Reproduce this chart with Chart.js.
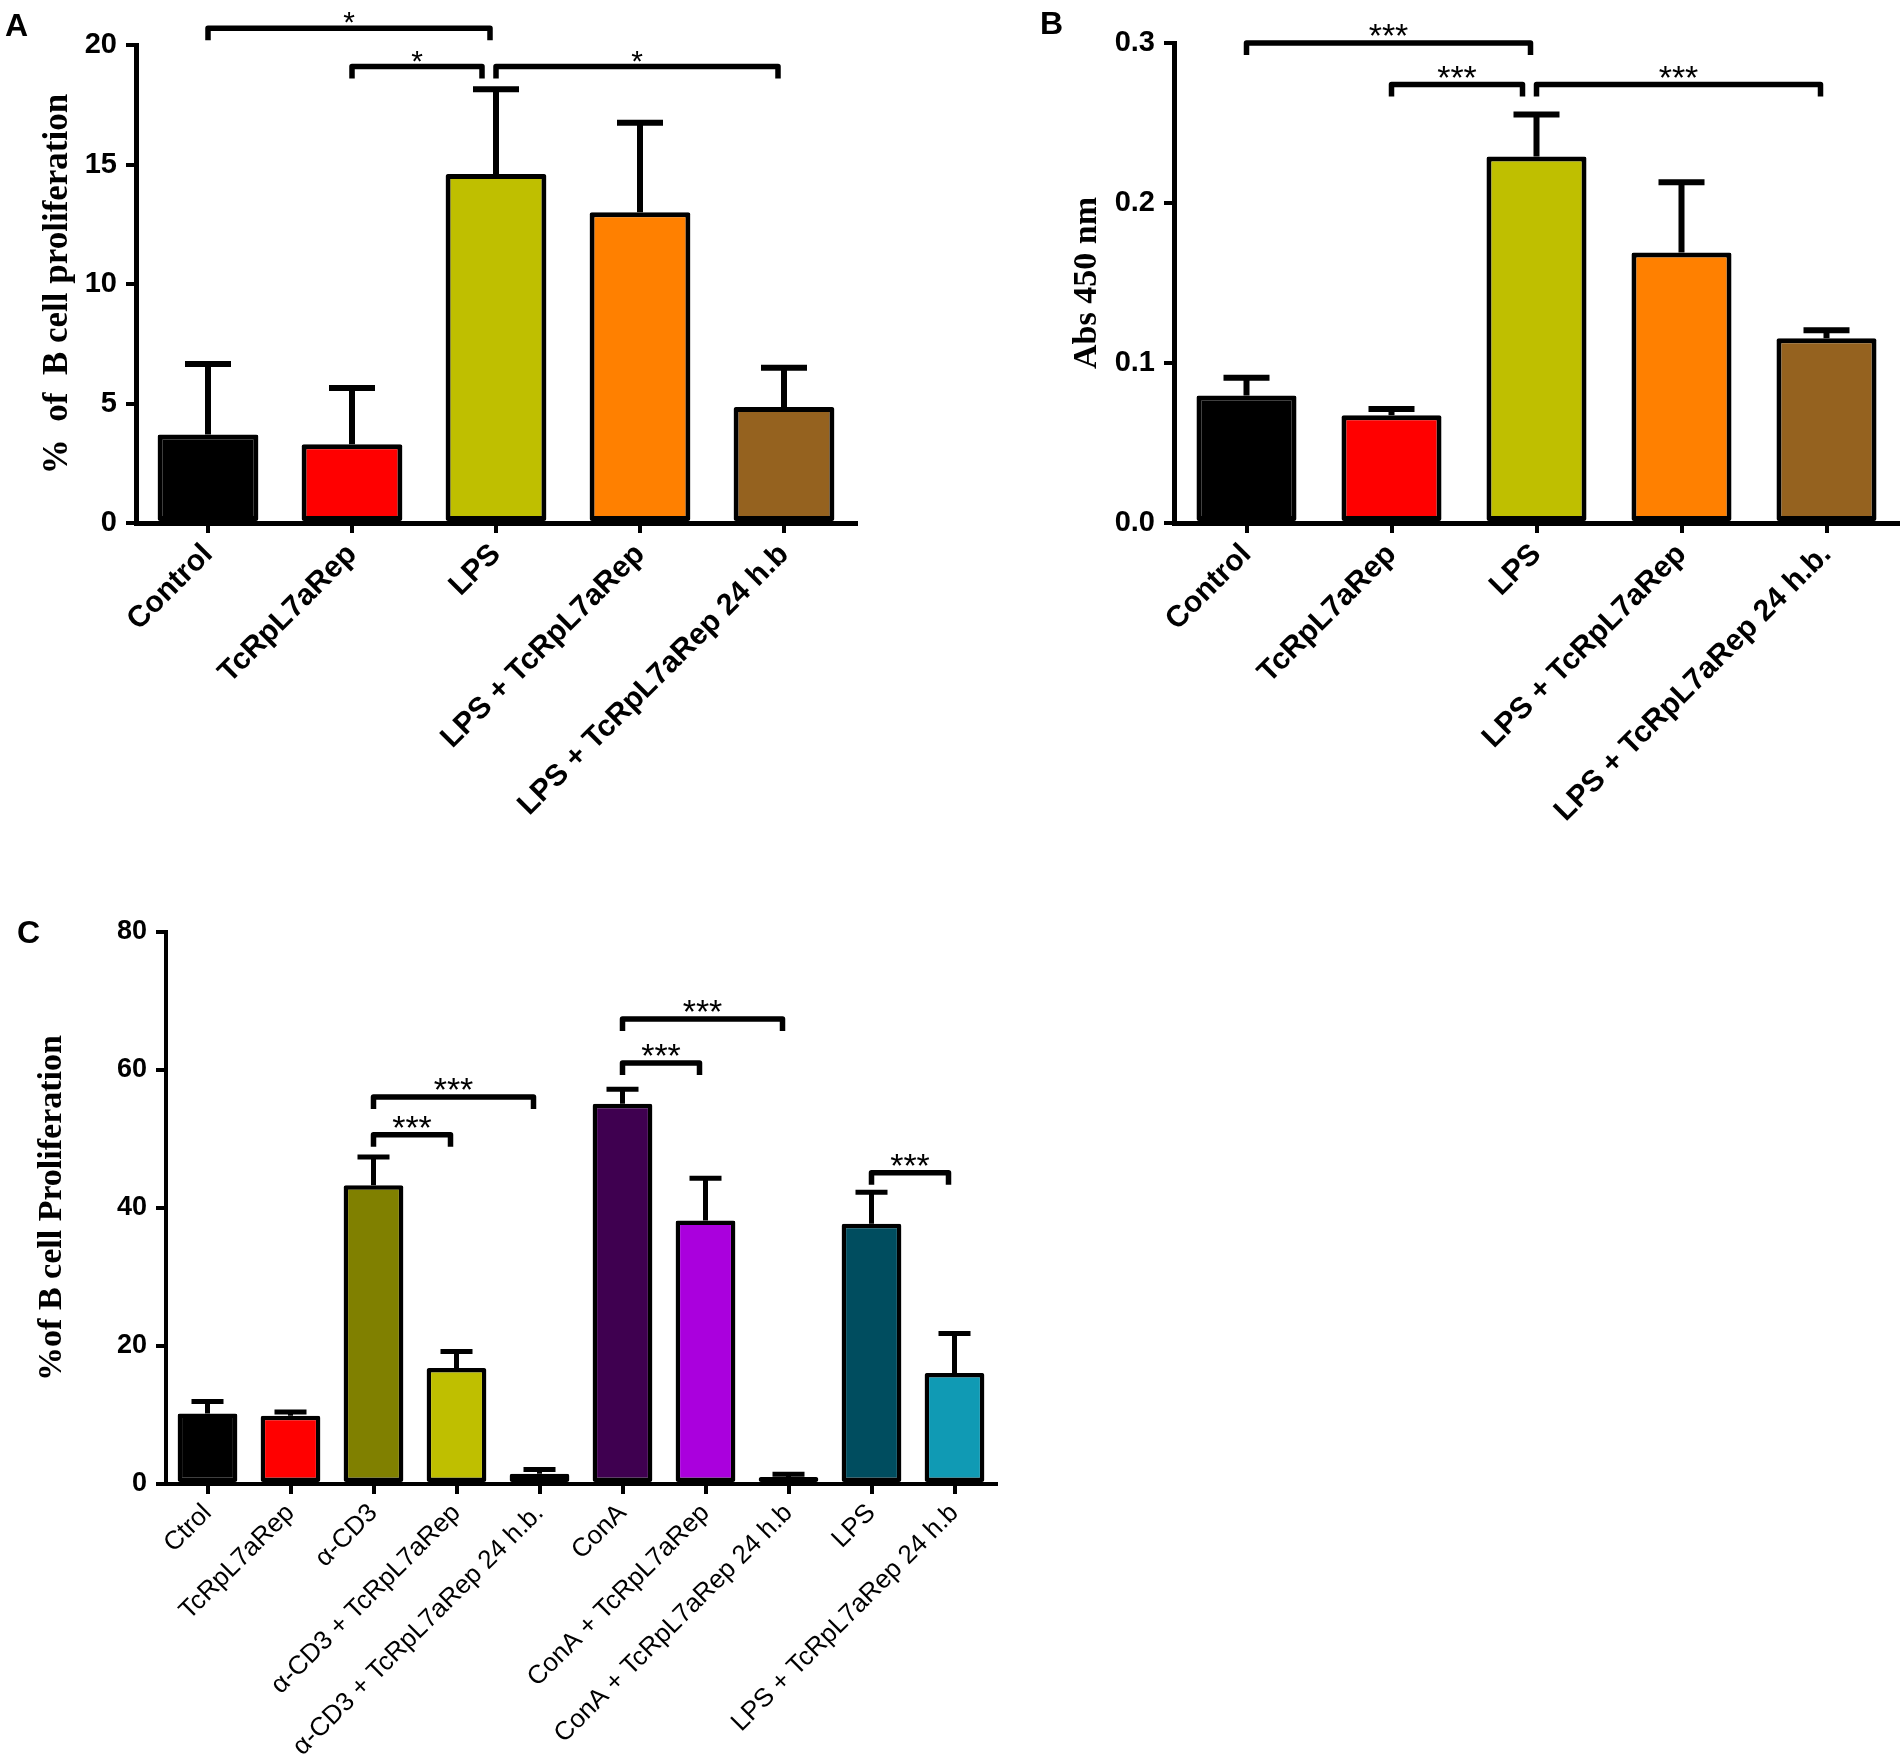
<!DOCTYPE html>
<html>
<head>
<meta charset="utf-8">
<title>B cell proliferation</title>
<script src="https://cdn.jsdelivr.net/npm/chart.js@4.4.1/dist/chart.umd.min.js"></script>
<style>
  html, body { margin: 0; padding: 0; background: #fff; }
  #page { position: relative; width: 1900px; height: 1756px; overflow: hidden; background: #fff; }
  .panel { position: absolute; }
</style>
</head>
<body>
<div id="page">
  <div class="panel" style="left:0;top:0;width:880px;height:880px"><canvas id="chartA"></canvas></div>
  <div class="panel" style="left:1030px;top:0;width:870px;height:880px"><canvas id="chartB"></canvas></div>
  <div class="panel" style="left:0;top:900px;width:1010px;height:856px"><canvas id="chartC"></canvas></div>
</div>
<script>
// panel A - % of B cell proliferation
const labelsA = ['Control', 'TcRpL7aRep', 'LPS', 'LPS + TcRpL7aRep', 'LPS + TcRpL7aRep 24 h.b'];
const meansA = [3.7, 3.3, 14.6, 13.0, 4.85];
const errorsA = [2.95, 2.35, 3.55, 3.75, 1.65];
// [from, to, y value, label]
const bracketsA = [[0, 2, 20.7, '*'], [1, 2, 19.1, '*'], [2, 4, 19.1, '*']];

// panel B - Abs 450 nm
const labelsB = ['Control', 'TcRpL7aRep', 'LPS', 'LPS + TcRpL7aRep', 'LPS + TcRpL7aRep 24 h.b.'];
const meansB = [0.0797, 0.0674, 0.229, 0.169, 0.1154];
const errorsB = [0.0111, 0.0038, 0.0263, 0.044, 0.0051];
const bracketsB = [[0, 2, 0.3, '***'], [1, 2, 0.274, '***'], [2, 4, 0.274, '***']];

// panel C - % of B cell Proliferation
const labelsC = ['Ctrol', 'TcRpL7aRep', 'α-CD3', 'α-CD3 + TcRpL7aRep', 'α-CD3 + TcRpL7aRep 24 h.b.',
    'ConA', 'ConA + TcRpL7aRep', 'ConA + TcRpL7aRep 24 h.b', 'LPS', 'LPS + TcRpL7aRep 24 h.b'];
const meansC = [10.2, 9.9, 43.3, 16.8, 1.5, 55.1, 38.2, 1.0, 37.7, 16.1];
const errorsC = [1.75, 0.55, 4.1, 2.4, 0.6, 2.1, 6.1, 0.4, 4.6, 5.7];
const bracketsC = [[2, 3, 50.6, '***'], [2, 4, 56.1, '***'], [5, 6, 61.0, '***'], [5, 7, 67.4, '***'], [8, 9, 45.1, '***']];

const colorsAB = ['#000000', '#ff0000', '#bfbf00', '#ff8000', '#95621f'];
const colorsC = ['#000000', '#ff0000', '#808000', '#bfbf00', '#ffff99', '#3f0050', '#aa00dd', '#dd88ee', '#004d5f', '#109ab4'];

const annotate = {
    id: 'annotate',
    afterDatasetsDraw(chart, args, opts) {
        const ctx = chart.ctx;
        const y = chart.scales.y;
        const values = chart.data.datasets[0].data;
        ctx.save();
        ctx.strokeStyle = '#000';
        ctx.lineWidth = opts.errWidth;
        chart.getDatasetMeta(0).data.forEach((bar, i) => {
            const top = y.getPixelForValue(values[i]);
            const end = y.getPixelForValue(values[i] + opts.errors[i]);
            ctx.beginPath();
            ctx.moveTo(bar.x, top);
            ctx.lineTo(bar.x, end);
            ctx.moveTo(bar.x - opts.cap, end);
            ctx.lineTo(bar.x + opts.cap, end);
            ctx.stroke();
        });
        ctx.restore();
    },
    afterDraw(chart, args, opts) {
        const ctx = chart.ctx;
        const x = chart.scales.x;
        const y = chart.scales.y;
        ctx.save();
        ctx.strokeStyle = '#000';
        ctx.fillStyle = '#000';
        ctx.lineWidth = opts.bracketWidth;
        ctx.lineJoin = 'round';
        ctx.lineCap = 'butt';
        ctx.textAlign = 'center';
        ctx.textBaseline = 'alphabetic';
        ctx.font = opts.starFont;
        opts.brackets.forEach(b => {
            const shared = opts.brackets.some(o => o !== b && o[0] === b[1] && Math.abs(o[2] - b[2]) < 1e-6);
            const x1 = x.getPixelForValue(b[0]);
            const x2 = x.getPixelForValue(b[1]) - (shared ? 14 : opts.endInset);
            const yy = y.getPixelForValue(b[2]);
            ctx.beginPath();
            ctx.moveTo(x1, yy + opts.leg);
            ctx.lineTo(x1, yy);
            ctx.lineTo(x2, yy);
            ctx.lineTo(x2, yy + opts.leg);
            ctx.stroke();
            ctx.fillText(b[3], (x1 + x2) / 2, yy + 4);
        });
        ctx.font = 'bold 32px "Liberation Sans", Arial, sans-serif';
        ctx.textAlign = 'left';
        ctx.fillText(opts.letter[0], opts.letter[1], opts.letter[2]);
        ctx.restore();
    }
};

function makePanel(id, p) {
    const axisCommon = {
        grid: { display: true, drawOnChartArea: false, drawTicks: true, tickLength: 10, lineWidth: 4, color: '#000', offset: false },
        border: { display: true, width: p.axisWidth, color: '#000' }
    };
    return new Chart(document.getElementById(id).getContext('2d'), {
        type: 'bar',
        data: {
            labels: p.labels,
            datasets: [{
                data: p.means,
                backgroundColor: p.colors,
                borderColor: '#000',
                borderWidth: p.barBorder,
                borderSkipped: false,
                borderRadius: 2,
                barPercentage: p.barPct,
                categoryPercentage: 1.0
            }]
        },
        options: {
            responsive: true,
            maintainAspectRatio: false,
            devicePixelRatio: 1,
            animation: false,
            layout: { padding: p.padding },
            scales: {
                x: {
                    offset: true,
                    ...axisCommon,
                    ticks: {
                        autoSkip: false, minRotation: 45, maxRotation: 45, padding: 4, color: '#000',
                        font: p.xFont
                    },
                    afterFit(scale) { scale.height = p.xHeight; }
                },
                y: {
                    min: 0,
                    max: p.yMax,
                    ...axisCommon,
                    ticks: {
                        stepSize: p.yStep, padding: 9, color: '#000',
                        font: { family: '"Liberation Sans Narrow", "Arial Narrow", "Liberation Sans", sans-serif', weight: 'bold', size: p.yTickSize },
                        callback: v => v.toFixed(p.yDecimals)
                    },
                    title: {
                        display: true,
                        text: p.yTitle,
                        color: '#000',
                        font: { family: '"Liberation Serif", "Times New Roman", serif', weight: 'bold', size: p.titleSize },
                        padding: { top: p.titlePad, bottom: 0 }
                    },
                    afterFit(scale) { scale.width = p.yWidth; }
                }
            },
            plugins: {
                legend: { display: false },
                tooltip: { enabled: false },
                annotate: {
                    errors: p.errors, cap: p.cap, errWidth: p.errWidth,
                    brackets: p.brackets, bracketWidth: 5.5, leg: 12, endInset: 6,
                    starFont: p.starFont, letter: p.letter
                }
            }
        },
        plugins: [annotate]
    });
}

document.addEventListener('DOMContentLoaded', function () {
    const boldX = { family: '"Liberation Sans", Arial, sans-serif', weight: 'bold', size: 30 };

    makePanel('chartA', {
        labels: labelsA, means: meansA, errors: errorsA, brackets: bracketsA, colors: colorsAB,
        yMax: 20, yStep: 5, yDecimals: 0, yTitle: '%  of  B cell proliferation', titleSize: 35,
        padding: { left: 0, top: 45, right: 24, bottom: 0 }, yWidth: 136, xHeight: 357, titlePad: 37,
        barPct: 0.7, barBorder: 5, axisWidth: 5, cap: 23, errWidth: 6, yTickSize: 29,
        xFont: boldX, starFont: '30px "Liberation Sans", Arial, sans-serif', letter: ['A', 5, 36]
    });

    makePanel('chartB', {
        labels: labelsB, means: meansB, errors: errorsB, brackets: bracketsB, colors: colorsAB,
        yMax: 0.3, yStep: 0.1, yDecimals: 1, yTitle: 'Abs 450 nm', titleSize: 34,
        padding: { left: 0, top: 43, right: 1, bottom: 0 }, yWidth: 144, xHeight: 357, titlePad: 37,
        barPct: 0.69, barBorder: 5, axisWidth: 5, cap: 23, errWidth: 6, yTickSize: 29,
        xFont: boldX, starFont: '34px "Liberation Sans", Arial, sans-serif', letter: ['B', 10, 34]
    });

    makePanel('chartC', {
        labels: labelsC, means: meansC, errors: errorsC, brackets: bracketsC, colors: colorsC,
        yMax: 80, yStep: 20, yDecimals: 0, yTitle: '%of B cell Proliferation', titleSize: 34,
        padding: { left: 0, top: 32, right: 14, bottom: 0 }, yWidth: 166, xHeight: 272, titlePad: 32,
        barPct: 0.72, barBorder: 4.5, axisWidth: 4, cap: 16, errWidth: 5, yTickSize: 27,
        xFont: { family: '"Liberation Sans", Arial, sans-serif', weight: 'normal', size: 26 },
        starFont: '34px "Liberation Sans", Arial, sans-serif', letter: ['C', 17, 43]
    });
});
</script>
</body>
</html>
